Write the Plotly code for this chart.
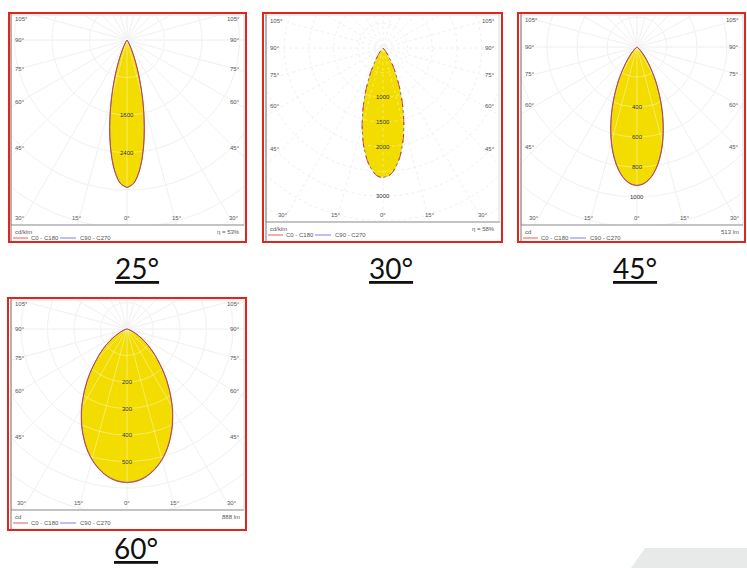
import numpy as np
import plotly.graph_objects as go

W, H = 747, 568

gamma = [0, 2.5, 5, 7.5, 10, 12.5, 15, 17.5, 20, 22.5, 25, 27.5, 30,
         35, 40, 45, 50, 55, 60, 65, 70, 75, 80, 85, 90]

i25_c0 = [3150, 3073, 2853, 2519, 2116, 1688, 1279, 919, 625, 402, 244, 140, 75,
          18, 3, 0, 0, 0, 0, 0, 0, 0, 0, 0, 0]
i25_c90 = [3140, 3065, 2840, 2505, 2100, 1675, 1270, 910, 618, 398, 240, 138, 74,
           18, 3, 0, 0, 0, 0, 0, 0, 0, 0, 0, 0]
i30_c0 = [2630, 2596, 2496, 2338, 2132, 1893, 1636, 1374, 1122, 889, 683, 509, 367,
          171, 68, 23, 6, 1, 0, 0, 0, 0, 0, 0, 0]
i30_c90 = [2620, 2588, 2485, 2325, 2120, 1880, 1625, 1362, 1112, 880, 676, 503, 362,
           168, 66, 22, 6, 1, 0, 0, 0, 0, 0, 0, 0]
i45_c0 = [925, 916, 891, 851, 797, 733, 661, 584, 506, 429, 356, 289, 229,
          134, 70, 32, 13, 4, 1, 0, 0, 0, 0, 0, 0]
i45_c90 = [922, 913, 888, 848, 793, 729, 657, 580, 502, 426, 353, 287, 227,
           132, 69, 31, 13, 4, 1, 0, 0, 0, 0, 0, 0]
i60_c0 = [580, 578, 572, 562, 548, 531, 511, 488, 462, 434, 405, 374, 343,
          279, 219, 163, 120, 82, 50, 28, 13, 5, 1, 0, 0]
i60_c90 = [578, 576, 570, 560, 546, 529, 509, 486, 460, 432, 403, 372, 341,
           277, 217, 161, 118, 80, 49, 27, 12, 5, 1, 0, 0]

captions = ["25°", "30°", "45°", "60°"]
units = ["cd/klm", "cd/klm", "cd", "cd"]
foot_right = ["η = 53%", "η = 58%", "513 lm", "888 lm"]
ring_step = [800, 500, 200, 100]
ring_labels = [[1600, 2400], [1000, 1500, 2000, 3000], [400, 600, 800, 1000], [200, 300, 400, 500]]
side_angles = [105, 90, 75, 60, 45]
bottom_angles = [-30, -15, 0, 15, 30]

curves = [(i25_c0, i25_c90), (i30_c0, i30_c90), (i45_c0, i45_c90), (i60_c0, i60_c90)]

# géométrie des cadres en pixels : box = cadre rouge, area = zone du diagramme, c = centre
panels = [
    dict(box=(9, 13, 246, 242), area=(11, 15, 244, 225), c=(127, 40), s=0.0469, cap=(137, 268),
         dash='solid', inset=8),
    dict(box=(263, 13, 502, 242), area=(266, 15, 499, 222), c=(383, 48), s=0.0494, cap=(391, 268),
         dash='dot', inset=16),
    dict(box=(518, 13, 745, 242), area=(521, 15, 743, 225), c=(637, 47), s=0.15, cap=(635, 268),
         dash='solid', inset=16),
    dict(box=(8, 298, 246, 530), area=(11, 300, 244, 510), c=(127, 329), s=0.265, cap=(136, 548),
         dash='solid', inset=8),
]

YELLOW = '#f3dc00'
RED = '#e1251b'
SMALL = dict(family='Liberation Sans', size=6, color='#555555')


def px(x):
    return x / W


def py(y):
    return 1 - y / H


def grid_xy(step, rmax):
    xs, ys = [], []
    t = np.linspace(0, 2 * np.pi, 241)
    for rr in np.arange(step, rmax, step):
        xs += list(rr * np.cos(t)) + [None]
        ys += list(rr * np.sin(t)) + [None]
    for a in range(0, 180, 15):
        ar = np.radians(a)
        xs += [-rmax * np.sin(ar), rmax * np.sin(ar), None]
        ys += [rmax * np.cos(ar), -rmax * np.cos(ar), None]
    return xs, ys


def lobe(vals):
    g = np.radians(gamma)
    v = np.array(vals, float)
    x = np.concatenate([(v * np.sin(g))[::-1], -v * np.sin(g)])
    y = np.concatenate([(-v * np.cos(g))[::-1], -v * np.cos(g)])
    return x, y


def note(x, y, text, font=SMALL, xanchor='center'):
    return dict(x=px(x), y=py(y), xref='paper', yref='paper', text=text, showarrow=False,
                xanchor=xanchor, yanchor='middle', font=font)


fig = go.Figure()
shapes = []
annotations = []

for k, p in enumerate(panels):
    ax = '' if k == 0 else str(k + 1)
    l, t, r, b = p['area']
    cx, cy = p['c']
    s = p['s']
    fig.update_layout({
        f'xaxis{ax}': dict(domain=[px(l), px(r)], range=[(l - cx) / s, (r - cx) / s],
                           visible=False, anchor=f'y{ax}', fixedrange=True),
        f'yaxis{ax}': dict(domain=[py(b), py(t)], range=[(cy - b) / s, (cy - t) / s],
                           visible=False, anchor=f'x{ax}', fixedrange=True),
    })
    xa, ya = f'x{ax}', f'y{ax}'
    rmax = 400 / s
    gx, gy = grid_xy(ring_step[k], rmax)

    # grille sous le lobe
    fig.add_trace(go.Scatter(x=gx, y=gy, mode='lines', xaxis=xa, yaxis=ya, hoverinfo='skip',
                             line=dict(color='#e4e4e4', width=0.8, dash=p['dash'])))
    c0, c90 = curves[k]
    x0, y0 = lobe(c0)
    x9, y9 = lobe(c90)
    fig.add_trace(go.Scatter(x=x0, y=y0, mode='lines', fill='toself', fillcolor=YELLOW,
                             xaxis=xa, yaxis=ya, hoverinfo='skip',
                             line=dict(color='rgba(0,0,0,0)', width=0, shape='spline')))
    # grille visible à travers le lobe
    fig.add_trace(go.Scatter(x=gx, y=gy, mode='lines', xaxis=xa, yaxis=ya, hoverinfo='skip',
                             line=dict(color='rgba(255,255,255,0.5)', width=0.8, dash=p['dash'])))
    fig.add_trace(go.Scatter(x=x9, y=y9, mode='lines', xaxis=xa, yaxis=ya, hoverinfo='skip',
                             line=dict(color='#5a5ad8', width=0.8, shape='spline',
                                       dash='dot' if p['dash'] == 'dot' else 'solid')))
    fig.add_trace(go.Scatter(x=x0, y=y0, mode='lines', xaxis=xa, yaxis=ya, hoverinfo='skip',
                             line=dict(color='#d0342c', width=0.8, shape='spline',
                                       dash='dash' if p['dash'] == 'dot' else 'solid')))

    # étiquettes des anneaux
    for v in ring_labels[k]:
        annotations.append(dict(x=0, y=-v, xref=xa, yref=ya, text=str(v), showarrow=False,
                                xanchor='center', yanchor='middle',
                                font=dict(family='Liberation Sans', size=6, color='#333333')))

    # angles sur les côtés
    X = cx - l - p['inset']
    for a in side_angles:
        yy = cy + X / np.tan(np.radians(a)) if a != 90 else cy
        yy = max(yy, t + 4)
        annotations.append(note(l + 2, yy, f'{a}°', xanchor='left'))
        annotations.append(note(r - 2, yy, f'{a}°', xanchor='right'))
    # angles en bas
    for a in bottom_angles:
        xx = cx + (b - cy) * np.tan(np.radians(a))
        xx = min(max(xx, l + 8), r - 8)
        annotations.append(note(xx, b - 7, f'{abs(a)}°'))

    # cadre et bandeau de légende
    bl, bt, br, bb = p['box']
    shapes.append(dict(type='rect', xref='paper', yref='paper', x0=px(l), x1=px(r), y0=py(b), y1=py(t),
                       line=dict(color='#dddddd', width=1)))
    shapes.append(dict(type='line', xref='paper', yref='paper', x0=px(l), x1=px(br - 2), y0=py(b), y1=py(b),
                       line=dict(color='#999999', width=1)))
    shapes.append(dict(type='line', xref='paper', yref='paper', x0=px(l), x1=px(l), y0=py(bt + 1), y1=py(bb - 1),
                       line=dict(color='#777777', width=1)))
    annotations.append(note(l + 2, b + 7, units[k], xanchor='left'))
    annotations.append(note(r - 2, b + 7, foot_right[k], xanchor='right'))
    shapes.append(dict(type='line', xref='paper', yref='paper', x0=px(l + 2), x1=px(l + 17),
                       y0=py(b + 13), y1=py(b + 13), line=dict(color='#e06060', width=1)))
    shapes.append(dict(type='line', xref='paper', yref='paper', x0=px(l + 49), x1=px(l + 65),
                       y0=py(b + 13), y1=py(b + 13), line=dict(color='#8080e0', width=1)))
    annotations.append(note(l + 18, b + 13, 'C0 - C180', xanchor='left'))
    annotations.append(note(l + 67, b + 13, 'C90 - C270', xanchor='left'))
    shapes.append(dict(type='rect', xref='paper', yref='paper', x0=px(bl), x1=px(br), y0=py(bb), y1=py(bt),
                       line=dict(color=RED, width=2)))

    # légende sous le cadre
    capx, capy = p['cap']
    annotations.append(note(capx, capy, f'<u>{captions[k]}</u>',
                            font=dict(family='Lato', size=28, color='#111111')))

# bandeau gris en bas à droite
shapes.append(dict(type='path', xref='paper', yref='paper', fillcolor='#e8e9e9', line=dict(width=0),
                   path=f'M {px(645)},{py(548)} L {px(747)},{py(548)} L {px(747)},{py(568)} L {px(631)},{py(568)} Z',
                   layer='below'))

fig.update_layout(
    width=W, height=H, autosize=False,
    margin=dict(l=0, r=0, t=0, b=0),
    paper_bgcolor='white', plot_bgcolor='white',
    showlegend=False,
    shapes=shapes, annotations=annotations,
)

fig.write_html("out.html", config={'displayModeBar': False},
               post_script="document.body.style.margin='0';")
